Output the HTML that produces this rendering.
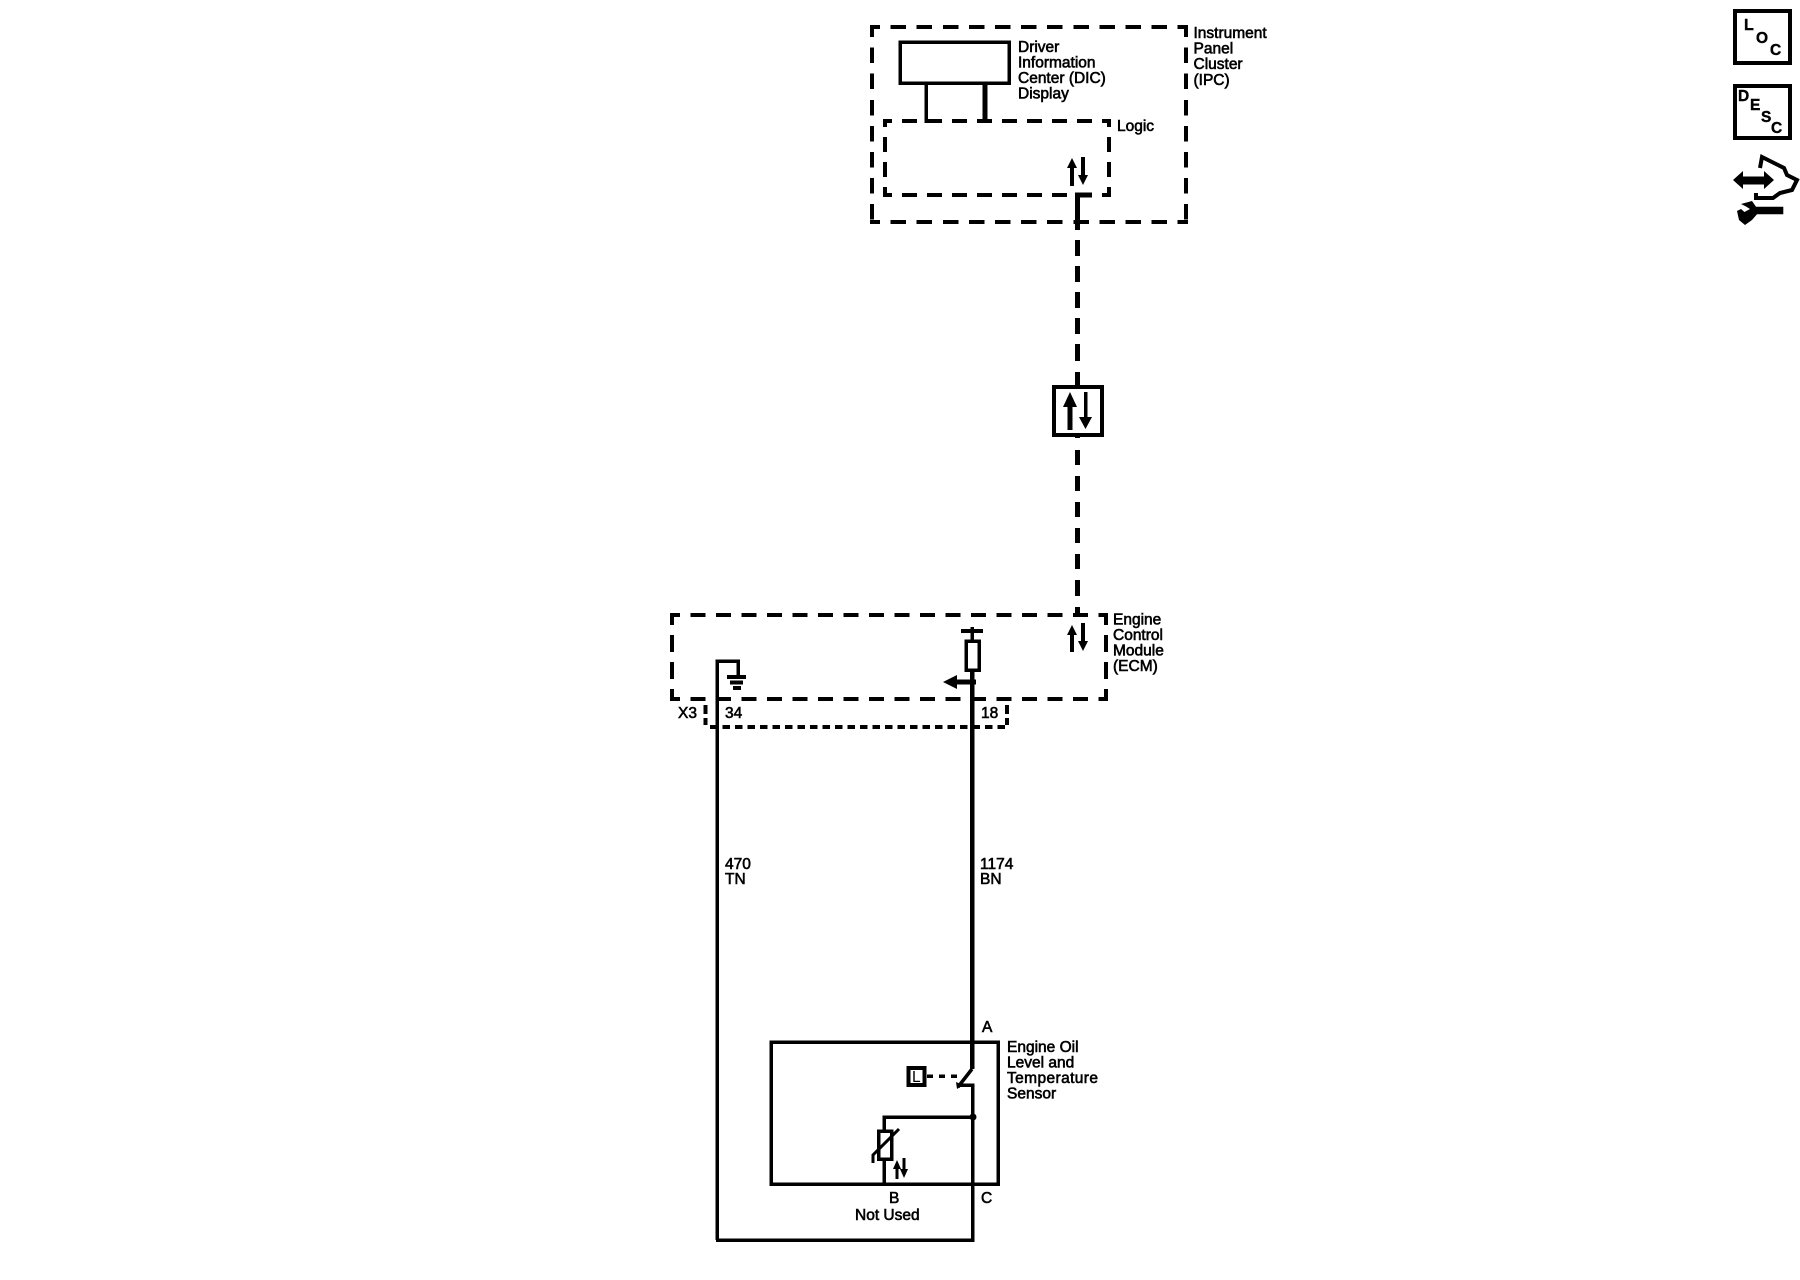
<!DOCTYPE html>
<html><head><meta charset="utf-8"><style>
html,body{margin:0;padding:0;background:#fff}
svg{display:block}
text{font-family:"Liberation Sans",sans-serif;font-size:15.5px;fill:#000;stroke:#000;stroke-width:.6px}
.b{font-weight:bold;stroke-width:.4px}
</style></head><body>
<svg xmlns="http://www.w3.org/2000/svg" width="1800" height="1280" viewBox="0 0 1800 1280">
<rect width="1800" height="1280" fill="#fff"/>
<g fill="none" stroke="#000" shape-rendering="crispEdges">
<!-- outer IPC -->
<g stroke-width="4" stroke-dasharray="15.5 10.6">
<path d="M870 27H1188" stroke-dashoffset="5.5"/>
<path d="M870 222H1188" stroke-dashoffset="5.5"/>
<path d="M872 25V224" stroke-dashoffset="3.5"/>
<path d="M1186 25V224" stroke-dashoffset="3.5"/>
</g>
<!-- logic -->
<g stroke-width="4" stroke-dasharray="15 10">
<path d="M883 121H1111" stroke-dashoffset="6"/>
<path d="M883 195H1085" stroke-dashoffset="6"/>
<path d="M1102 195H1111"/>
<path d="M885 119V197" stroke-dashoffset="7"/>
<path d="M1109 119V197" stroke-dashoffset="7"/>
</g>
<!-- ECM -->
<g stroke-width="4" stroke-dasharray="15 10.5">
<path d="M670 615H1108" stroke-dashoffset="5"/>
<path d="M670 699H1108" stroke-dashoffset="5"/>
<path d="M672 613V701" stroke-dasharray="17 10" stroke-dashoffset="5"/>
<path d="M1106 613V701" stroke-dasharray="17 10" stroke-dashoffset="5"/>
</g>
<!-- X3 -->
<path d="M705.5 705V714M705.5 718V725M1007 705V714M1007 718V725" stroke-width="4"/>
<path d="M708 727H1008" stroke-width="4" stroke-dasharray="7.5 5" stroke-dashoffset="-2"/>
<!-- DIC -->
<rect x="900" y="42" width="109" height="41" stroke-width="3.5"/>
<path d="M926 83V121H932" stroke-width="3.5"/>
<path d="M985 83V121" stroke-width="5"/>
<!-- bus -->
<path d="M1092 195H1077.5V230M1077.5 240V256M1077.5 266V282M1077.5 292V308M1077.5 318V334M1077.5 344V361M1077.5 372V386M1077.5 436V438M1077.5 450V465M1077.5 476V491M1077.5 502V517M1077.5 528V543M1077.5 554V569M1077.5 580V596M1077.5 607V615" stroke-width="5"/>
<rect x="1054" y="387" width="48" height="48" stroke-width="4"/>
<!-- ground / 470 -->
<path d="M717 1240V661H738V677" stroke-width="3.5"/>
<path d="M727 677H746" stroke-width="4"/>
<path d="M730 682.5H743" stroke-width="4"/>
<path d="M733 688H741" stroke-width="4"/>
<!-- 1174 -->
<path d="M972 642V627" stroke-width="3.5"/>
<path d="M961 631H983" stroke-width="4"/>
<rect x="966" y="641" width="13" height="29" stroke-width="3.5"/>
<path d="M972 670V1069" stroke-width="4.5"/>
<path d="M956 682H976" stroke-width="5"/>
<!-- sensor -->
<rect x="771" y="1042" width="227" height="142" stroke-width="3.5"/>
<path d="M957 1085H972.5V1240H716" stroke-width="3.5"/>
<path d="M884 1159V1184M884 1131V1117H973" stroke-width="3.5"/>
<rect x="878.5" y="1131" width="13" height="28" stroke-width="3.5"/>
<rect x="908.5" y="1068" width="16" height="17" stroke-width="4"/>
<path d="M925 1076H957" stroke-width="3.5" stroke-dasharray="6 6" stroke-dashoffset="-2"/>
<!-- small arrows shafts -->
<path d="M1072 186V165M1083 157V177" stroke-width="4"/>
<path d="M1070 430V400" stroke-width="5"/>
<path d="M1085.5 392V420" stroke-width="3.5"/>
<path d="M1072 652V630M1083 623V643" stroke-width="4"/>
<path d="M897 1179V1165M904 1158V1172" stroke-width="3"/>
<!-- icon boxes -->
<rect x="1735" y="11" width="55" height="52" stroke-width="4"/>
<rect x="1735" y="86" width="55" height="52" stroke-width="4"/>
</g>
<g fill="none" stroke="#000">
<path d="M972 1069L958 1087" stroke-width="3.5"/>
<path d="M873 1163V1155L899 1129" stroke-width="3"/>
<path d="M1760 168L1762 157L1768 160L1778 165L1784 168L1787 175L1797 180L1792 190L1780 193L1773 198L1756 198V193" stroke-width="4"/>
</g>
<g fill="#000">
<circle cx="973" cy="1117" r="3.5"/>
<circle cx="973" cy="682" r="3"/>
<polygon points="943,682 957,675 957,689"/>
<polygon points="1072,158 1067,168 1077,168"/>
<polygon points="1083,185 1078,175 1088,175"/>
<polygon points="1070,392 1063,407 1077,407"/>
<polygon points="1085.5,429 1079,417 1092,417"/>
<polygon points="1072,625 1067,635 1077,635"/>
<polygon points="1083,651 1078,641 1088,641"/>
<polygon points="897,1160 893,1169 901,1169"/>
<polygon points="904,1178 900,1169 908,1169"/>
<polygon points="957,1089 956,1082 963,1085"/>
<polygon points="1733,180 1743,171 1743,176.5 1764,176.5 1764,171 1774,180 1764,189 1764,184.5 1743,184.5 1743,189"/>
<polygon points="1741,204 1752,201 1756,206.7 1783.3,206.7 1783.3,214.3 1757,214.3 1752,220 1745,225 1739,220 1737,211 1741,209 1744.5,212 1750,209 1746,206.5"/>
</g>
<text x="1193.5" y="38">Instrument</text>
<text x="1193.5" y="53.5">Panel</text>
<text x="1193.5" y="69">Cluster</text>
<text x="1193.5" y="85">(IPC)</text>
<text x="1018" y="52">Driver</text>
<text x="1018" y="67.5">Information</text>
<text x="1018" y="83">Center (DIC)</text>
<text x="1018" y="98.5">Display</text>
<text x="1117" y="131">Logic</text>
<text x="1113" y="624.5">Engine</text>
<text x="1113" y="640">Control</text>
<text x="1113" y="655.5">Module</text>
<text x="1113" y="671">(ECM)</text>
<text x="678" y="718">X3</text>
<text x="725" y="718">34</text>
<text x="981" y="718">18</text>
<text x="725" y="869">470</text>
<text x="725" y="884">TN</text>
<text x="980" y="869">1174</text>
<text x="980" y="884">BN</text>
<text x="982" y="1032">A</text>
<text x="1007" y="1052">Engine Oil</text>
<text x="1007" y="1067.5">Level and</text>
<text x="1007" y="1083" textLength="91" lengthAdjust="spacing">Temperature</text>
<text x="1007" y="1098.5">Sensor</text>
<text x="889" y="1203">B</text>
<text x="855" y="1220">Not Used</text>
<text x="981" y="1203">C</text>
<text x="912" y="1082" style="stroke-width:0">L</text>
<text class="b" x="1744" y="30" style="font-size:16px">L</text>
<text class="b" x="1756" y="43">O</text>
<text class="b" x="1770" y="55">C</text>
<text class="b" x="1738" y="101">D</text>
<text class="b" x="1750" y="110">E</text>
<text class="b" x="1761" y="122">S</text>
<text class="b" x="1771" y="133">C</text>
</svg>
</body></html>
